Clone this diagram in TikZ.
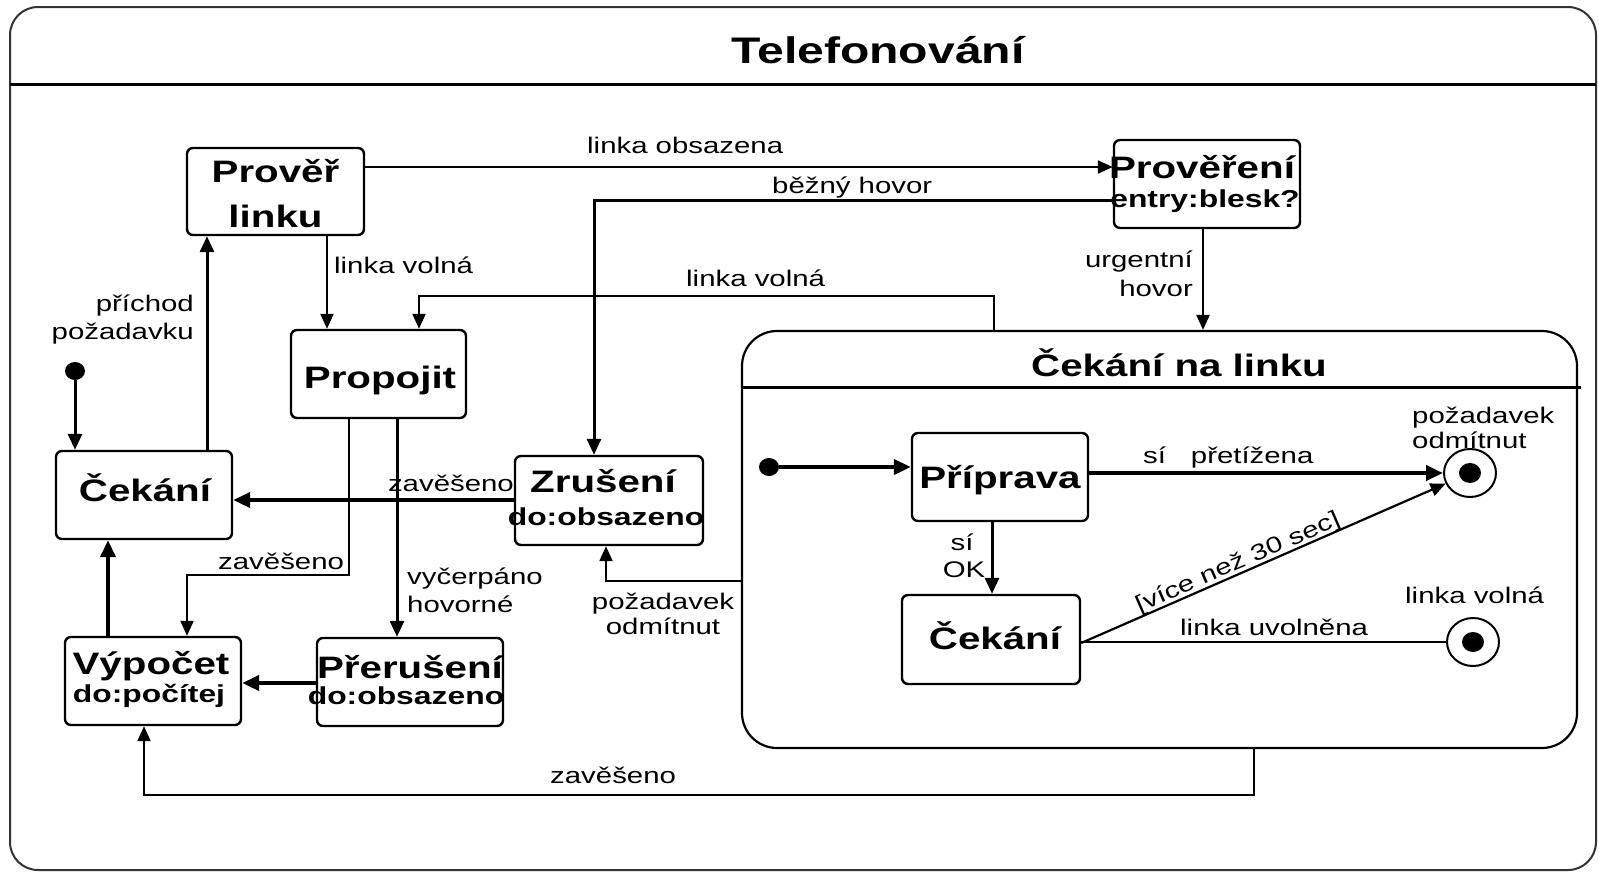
\documentclass[tikz,border=0pt]{standalone}
\usepackage{fontspec}
\setmainfont{Liberation Sans}[FakeStretch=1.3]
\usetikzlibrary{arrows.meta,shapes.geometric}
\newcommand\dglbl{\fontsize{22.6}{27}\selectfont}
\newcommand\dgname{\bfseries\fontsize{31}{36}\selectfont}
\newcommand\dgsub{\bfseries\fontsize{24.5}{29}\selectfont}
\newcommand\dgtitle{\bfseries\fontsize{37}{42}\selectfont}
\begin{document}
\begin{tikzpicture}[x=1pt,y=-1pt,
  box/.style={draw, line width=2.4pt, rounded corners=6pt, inner sep=0pt},
  lbl/.style={inner sep=0pt, font=\dglbl},
  nm/.style={inner sep=0pt, font=\dgname},
  sb/.style={inner sep=0pt, font=\dgsub},
  tr/.style={line width=2.2pt, -{Triangle[length=15pt,width=13pt]}},
  trk/.style={line width=4.5pt, -{Triangle[length=17pt,width=15pt]}},
  trm/.style={line width=3pt, -{Triangle[length=16pt,width=14pt]}},
  dot/.style={ellipse, fill, minimum width=20pt, minimum height=18pt, inner sep=0pt},
  endst/.style={ellipse, draw, line width=2pt, minimum width=52pt, minimum height=48pt, inner sep=0pt,
    path picture={\fill (path picture bounding box.center) ellipse (11pt and 10pt);}},
]
\useasboundingbox (0,0) rectangle (1599,873);

% outer frame with title compartment
\draw[line width=2pt, black!80, rounded corners=28pt] (10,7) rectangle (1596,870);
\draw[line width=3pt] (10,84) -- (1596,84);
\node[inner sep=0pt, font=\dgtitle, anchor=base] (title) at (878,63) {Telefonování};

% simple states
\node[box, minimum width=177pt, minimum height=87pt] (prover) at (275.5,191.5) {};
\node[nm, anchor=base] (proverA) at (275.5,182) {Prověř};
\node[nm, anchor=base] (proverB) at (275.5,227) {linku};

\node[box, minimum width=186pt, minimum height=88pt] (provereni) at (1207,184) {};
\node[nm, anchor=base] (provereniA) at (1202,178) {Prověření};
\node[sb, anchor=base] (provereniB) at (1205,207) {entry:blesk?};

\node[box, minimum width=175pt, minimum height=88pt] (propojit) at (378.5,374) {};
\node[nm, anchor=base] (propojitA) at (380,388) {Propojit};

\node[box, minimum width=176pt, minimum height=88pt] (cekani) at (144,495) {};
\node[nm, anchor=base] (cekaniA) at (145,501) {Čekání};

\node[box, minimum width=188pt, minimum height=89pt] (zruseni) at (609,500.5) {};
\node[nm, anchor=base] (zruseniA) at (603,492) {Zrušení};
\node[sb, anchor=base] (zruseniB) at (606,525) {do:obsazeno};

\node[box, minimum width=176pt, minimum height=88pt] (vypocet) at (153,681) {};
\node[nm, anchor=base] (vypocetA) at (151,674) {Výpočet};
\node[sb, anchor=base] (vypocetB) at (149,702) {do:počítej};

\node[box, minimum width=186pt, minimum height=88pt] (preruseni) at (410,682) {};
\node[nm, anchor=base] (preruseniA) at (410,678) {Přerušení};
\node[sb, anchor=base] (preruseniB) at (406,704) {do:obsazeno};

\node[dot] (start) at (75,371) {};

% composite state
\node[draw, line width=2.2pt, rounded corners=35pt, minimum width=835pt, minimum height=417pt, inner sep=0pt]
  (comp) at (1159.5,539.5) {};
\draw[line width=3pt] (comp.west |- 0,387) -- (1581,387);
\node[nm, anchor=base] (compA) at (1179,376) {Čekání na linku};

\node[dot] (cstart) at (769,467) {};
\node[box, minimum width=176pt, minimum height=88pt] (priprava) at (1000,477) {};
\node[nm, anchor=base] (pripravaA) at (1000,488) {Příprava};
\node[box, minimum width=178pt, minimum height=89pt] (cekani2) at (991,639.5) {};
\node[nm, anchor=base] (cekani2A) at (995,649) {Čekání};
\node[endst] (endA) at (1470,473) {};
\node[endst] (endB) at (1473,642) {};

% transitions on the top level
\draw[trm] (start) -- (start |- cekani.north);
\draw[trm] (cekani.north -| 207,0) -- (prover.south -| 207,0);
\node[lbl, anchor=base east] (l1) at (194,311) {příchod};
\node[lbl, anchor=base east] (l2) at (194,339) {požadavku};

\draw[tr] (prover.south -| 327,0) -- (propojit.north -| 327,0);
\node[lbl, anchor=base west] (l3) at (334,273) {linka volná};

\draw[tr] (prover.east |- 0,167) -- (provereni.west |- 0,167);
\node[lbl, anchor=base west] (l4) at (587,153) {linka obsazena};

\draw[trm] (provereni.west |- 0,200) -| (zruseni.north -| 594,0);
\node[lbl, anchor=base west] (l5) at (772,193) {běžný hovor};

\draw[tr] (provereni.south -| 1203,0) -- (comp.north -| 1203,0);
\node[lbl, anchor=base east] (l6) at (1193,267) {urgentní};
\node[lbl, anchor=base east] (l7) at (1193,296) {hovor};

\draw[tr] (comp.north -| 994,0) -- (994,296) -- (419,296) -- (propojit.north -| 419,0);
\node[lbl, anchor=base west] (l8) at (686,286) {linka volná};

\draw[trk] (zruseni.west |- 0,500) -- (cekani.east |- 0,500);
\node[lbl, anchor=base east] (l9) at (514,491) {zavěšeno};

\draw[tr] (propojit.south -| 349,0) -- (349,575) -- (187,575) -- (vypocet.north -| 187,0);
\node[lbl, anchor=base west] (l10) at (218,569) {zavěšeno};

\draw[trm] (propojit.south -| 397,0) -- (preruseni.north -| 397,0);
\node[lbl, anchor=base west] (l11) at (407,584) {vyčerpáno};
\node[lbl, anchor=base west] (l12) at (407,612) {hovorné};

\draw[trk] (preruseni.west |- 0,683) -- (vypocet.east |- 0,683);
\draw[trk] (vypocet.north -| 108,0) -- (cekani.south -| 108,0);

\draw[tr] (comp.west |- 0,581) -- (606,581) -- (zruseni.south -| 606,0);
\node[lbl, anchor=base] (l13) at (663,609) {požadavek};
\node[lbl, anchor=base] (l14) at (663,634) {odmítnut};

\draw[tr] (comp.south -| 1254,0) -- (1254,795) -- (144,795) -- (vypocet.south -| 144,0);
\node[lbl, anchor=base west] (l15) at (550,783) {zavěšeno};

% transitions inside the composite state
\draw[trk] (cstart) -- (priprava.west |- cstart);
\draw[trk] (priprava.east |- endA) -- (endA.west);
\node[lbl, anchor=base west] (l16) at (1143,463) {sí\hspace{1.1em}přetížena};
\node[lbl, anchor=base west] (l17) at (1412,423) {požadavek};
\node[lbl, anchor=base west] (l18) at (1412,448) {odmítnut};

\draw[trm] (priprava.south -| 992,0) -- (cekani2.north -| 992,0);
\node[lbl, anchor=base] (l19) at (962,550) {sí};
\node[lbl, anchor=base] (l20) at (964,577) {OK};

\draw[tr] (cekani2.east |- 0,643) -- (endA);
\node[lbl, rotate=23.5] (l21) at (1238,563) {[více než 30 sec]};

\draw[line width=2.2pt] (cekani2.east |- endB) -- (endB.west);
\node[lbl, anchor=base west] (l22) at (1180,635) {linka uvolněna};
\node[lbl, anchor=base west] (l23) at (1405,603) {linka volná};
\end{tikzpicture}
\end{document}
